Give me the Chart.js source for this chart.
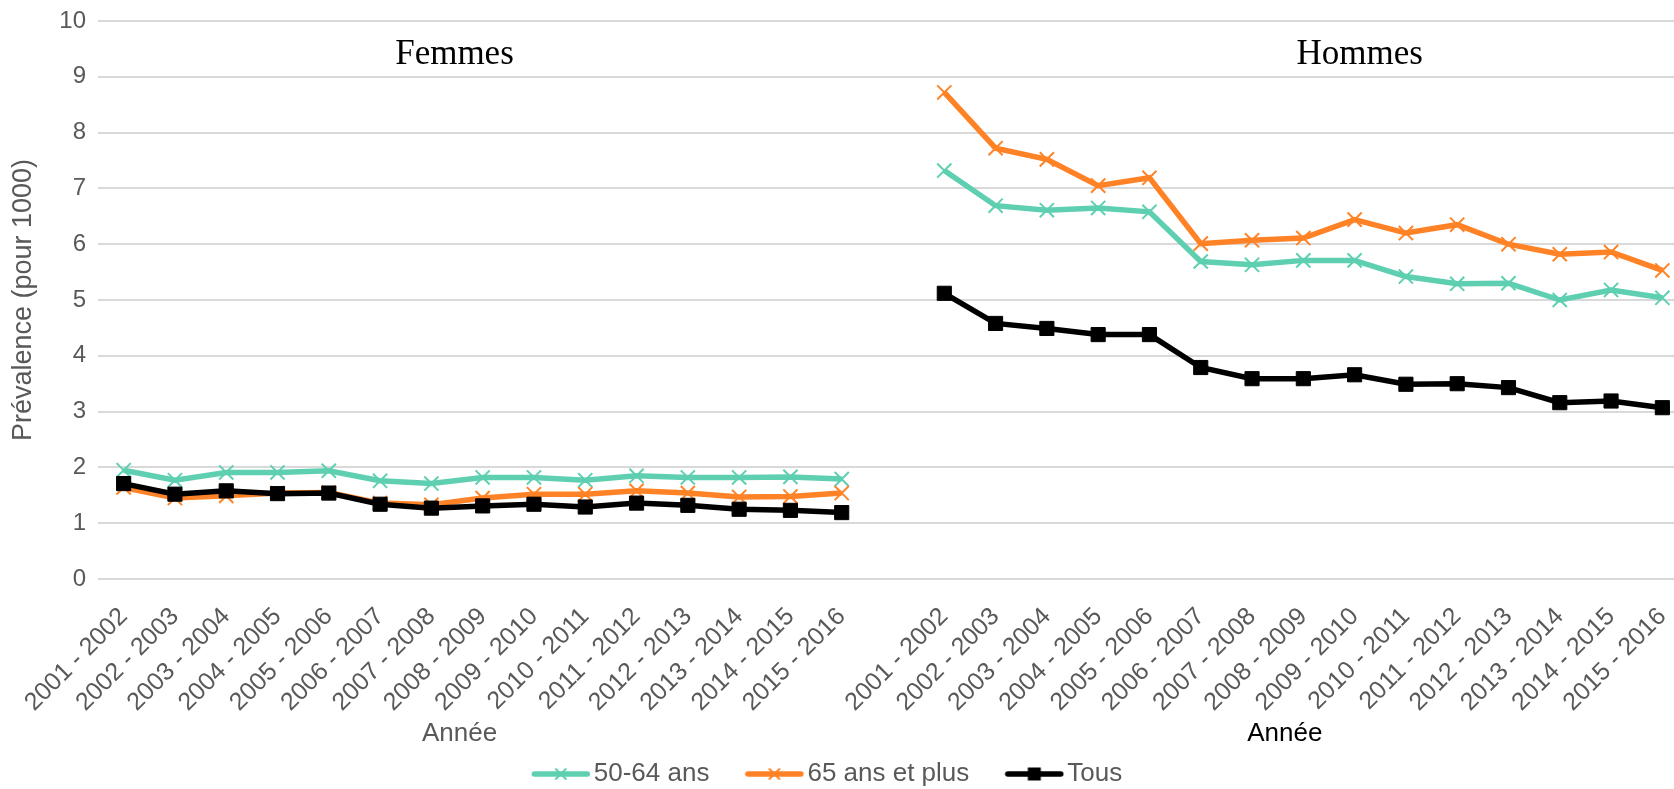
<!DOCTYPE html>
<html>
<head>
<meta charset="utf-8">
<script src="https://cdn.jsdelivr.net/npm/chart.js@4/dist/chart.umd.min.js"></script>
<style>
  html, body { margin: 0; padding: 0; overflow: hidden; background: #fff; width: 1674px; height: 789px; }
  #wrap { position: relative; width: 1700px; height: 789px; }
</style>
</head>
<body>
<div id="wrap"><canvas id="chart"></canvas></div>
<script>
// Survey periods (same set for both sexes)
const periods = [
  '2001 - 2002', '2002 - 2003', '2003 - 2004', '2004 - 2005', '2005 - 2006',
  '2006 - 2007', '2007 - 2008', '2008 - 2009', '2009 - 2010', '2010 - 2011',
  '2011 - 2012', '2012 - 2013', '2013 - 2014', '2014 - 2015', '2015 - 2016'
];

// Prevalence per 1000, women
const femmes5064 = [1.95, 1.77, 1.91, 1.91, 1.94, 1.76, 1.71, 1.82, 1.82, 1.77, 1.85, 1.82, 1.82, 1.83, 1.79];
const femmes65   = [1.64, 1.45, 1.49, 1.54, 1.55, 1.36, 1.33, 1.45, 1.52, 1.52, 1.58, 1.54, 1.47, 1.48, 1.54];
const femmesTous = [1.71, 1.52, 1.58, 1.53, 1.54, 1.34, 1.27, 1.31, 1.34, 1.29, 1.36, 1.32, 1.25, 1.23, 1.19];

// Prevalence per 1000, men
const hommes5064 = [7.32, 6.69, 6.61, 6.65, 6.58, 5.69, 5.63, 5.71, 5.71, 5.42, 5.29, 5.30, 5.00, 5.18, 5.04];
const hommes65   = [8.72, 7.72, 7.52, 7.05, 7.19, 6.01, 6.07, 6.11, 6.44, 6.20, 6.35, 6.00, 5.82, 5.86, 5.53];
const hommesTous = [5.12, 4.58, 4.49, 4.38, 4.38, 3.79, 3.59, 3.59, 3.66, 3.49, 3.50, 3.43, 3.16, 3.19, 3.07];

const seriesNames = ['50-64 ans', '65 ans et plus', 'Tous'];
const yTicks = [0, 1, 2, 3, 4, 5, 6, 7, 8, 9, 10];

// One shared x axis: women, an empty slot, then men
const labels = [...periods, '', ...periods];
const joined = (f, h) => [...f, null, ...h];

const TEAL = '#5ecfb0';
const ORANGE = '#ff8326';
const BLACK = '#000000';
const GREY = '#595959';
const SANS = '"Liberation Sans", Arial, sans-serif';

// Legend key: a short line with the series marker in its middle
function swatch(color, marker) {
  const c = document.createElement('canvas');
  c.width = 60; c.height = 24;
  const g = c.getContext('2d');
  const cy = 12, cx = 30;
  g.strokeStyle = color;
  g.lineWidth = 5.5;
  g.lineCap = 'round';
  g.beginPath(); g.moveTo(3.5, cy); g.lineTo(56.5, cy); g.stroke();
  if (marker === 'cross') {
    g.lineWidth = 2;
    g.lineCap = 'butt';
    const r = 5.5;
    g.beginPath();
    g.moveTo(cx - r, cy - r); g.lineTo(cx + r, cy + r);
    g.moveTo(cx + r, cy - r); g.lineTo(cx - r, cy + r);
    g.stroke();
  } else {
    g.fillStyle = color;
    g.fillRect(cx - 6.5, cy - 6.5, 13, 13);
  }
  return c;
}
const swatches = [swatch(TEAL, 'cross'), swatch(ORANGE, 'cross'), swatch(BLACK, 'square')];

// Group headings and axis titles drawn over the shared axis
const groupTitles = [
  { text: 'Femmes', at: 6.45 },
  { text: 'Hommes', at: 24.1 }
];
const axisTitles = [
  { text: 'Année', at: 6.55, color: GREY },
  { text: 'Année', at: 22.64, color: BLACK }
];

const groupText = {
  id: 'groupText',
  afterLayout(chart) {
    // nudge the legend row a little to the left of the canvas centre
    chart.legend.left -= 34;
  },
  afterDraw(chart) {
    const { ctx, scales: { x, y } } = chart;
    ctx.save();
    ctx.textAlign = 'center';
    ctx.textBaseline = 'middle';
    ctx.fillStyle = '#000';
    ctx.font = '35px "Liberation Serif", serif';
    groupTitles.forEach(t => ctx.fillText(t.text, x.getPixelForValue(t.at), y.getPixelForValue(9.4)));
    ctx.font = '26px ' + SANS;
    axisTitles.forEach(t => {
      ctx.fillStyle = t.color;
      ctx.fillText(t.text, x.getPixelForValue(t.at), x.top + 155);
    });
    ctx.restore();
  }
};

function lineSet(name, data, color, style, order) {
  const cross = style === 'crossRot';
  return {
    label: name,
    data,
    borderColor: color,
    backgroundColor: color,
    borderWidth: 5.5,
    tension: 0,
    spanGaps: false,
    pointStyle: style,
    pointRadius: 10,
    pointBorderWidth: cross ? 2 : 1,
    pointBorderColor: color,
    pointBackgroundColor: color,
    order
  };
}

new Chart(document.getElementById('chart'), {
  type: 'line',
  data: {
    labels,
    datasets: [
      lineSet(seriesNames[0], joined(femmes5064, hommes5064), TEAL, 'crossRot', 3),
      lineSet(seriesNames[1], joined(femmes65, hommes65), ORANGE, 'crossRot', 2),
      lineSet(seriesNames[2], joined(femmesTous, hommesTous), BLACK, 'rect', 1)
    ]
  },
  options: {
    responsive: true,
    maintainAspectRatio: false,
    animation: false,
    layout: { padding: { top: 21, right: 3, bottom: -8, left: 0 } },
    plugins: {
      tooltip: { enabled: false },
      legend: {
        position: 'bottom',
        labels: {
          usePointStyle: true,
          pointStyleWidth: 40,
          padding: 45,
          color: GREY,
          font: { family: SANS, size: 26 },
          generateLabels: (chart) => chart.data.datasets.map((ds, i) => ({
            text: ds.label,
            pointStyle: swatches[i],
            fillStyle: ds.borderColor,
            strokeStyle: ds.borderColor,
            lineWidth: 0,
            fontColor: GREY,
            hidden: false,
            datasetIndex: i
          }))
        }
      }
    },
    scales: {
      x: {
        type: 'category',
        offset: true,
        grid: { display: false, drawTicks: false },
        border: { display: false },
        ticks: {
          autoSkip: false,
          minRotation: 45,
          maxRotation: 45,
          padding: 23,
          color: GREY,
          font: { family: SANS, size: 25 }
        },
        afterFit(scale) {
          scale.height = 137;
          scale.paddingLeft = 0;
          scale.paddingRight = 0;
        }
      },
      y: {
        min: 0,
        max: 10,
        afterBuildTicks(scale) {
          scale.ticks = yTicks.map(v => ({ value: v }));
        },
        grid: { color: '#d9d9d9', lineWidth: 2, drawTicks: false },
        border: { display: false },
        ticks: {
          padding: 12,
          color: GREY,
          font: { family: SANS, size: 24 }
        },
        title: {
          display: true,
          text: 'Prévalence (pour 1000)',
          color: GREY,
          padding: { top: 7, bottom: 0 },
          font: { family: SANS, size: 27 }
        },
        afterFit(scale) {
          scale.width = 98;
          scale.paddingTop = 0;
          scale.paddingBottom = 0;
        }
      }
    }
  },
  plugins: [groupText]
});
</script>
</body>
</html>
